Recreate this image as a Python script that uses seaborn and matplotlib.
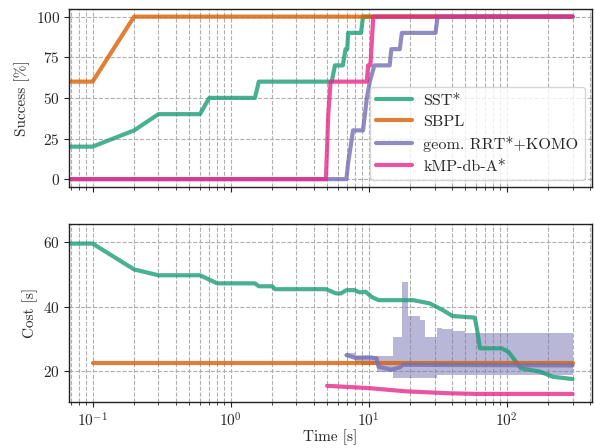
import numpy as np
import pandas as pd
import matplotlib
matplotlib.use("Agg")
import matplotlib.pyplot as plt
import seaborn as sns

# methods / colours
methods = ["SST*", "SBPL", "geom. RRT*+KOMO", "kMP-db-A*"]
colors = ["#1b9e77", "#d95f02", "#7570b3", "#e7298a"]

# success rate [%] over time [s]
sst_succ_t = [0.05, 0.1, 0.2, 0.3, 0.6, 0.7, 1.5, 1.6, 5.4, 5.7, 6.5, 6.8, 7.0, 7.1, 8.8, 9.1, 300]
sst_succ_v = [20, 20, 30, 40, 40, 50, 50, 60, 60, 70, 70, 80, 80, 90, 90, 100, 100]
sbpl_succ_t = [0.05, 0.1, 0.2, 300]
sbpl_succ_v = [60, 60, 100, 100]
rrt_succ_t = [0.05, 6.9, 7.1, 7.4, 7.7, 9.1, 9.4, 9.7, 10.2, 11.0, 14.2, 14.6, 16.8, 17.4, 30.5, 31.6, 300]
rrt_succ_v = [0, 0, 10, 20, 30, 30, 40, 50, 60, 70, 70, 80, 80, 90, 90, 100, 100]
kmp_succ_t = [0.05, 4.9, 5.0, 5.1, 5.3, 9.7, 9.9, 10.3, 10.8, 300]
kmp_succ_v = [0, 0, 20, 40, 60, 60, 70, 70, 100, 100]

# cost [s] over time [s]
sst_cost_t = [0.05, 0.1, 0.2, 0.3, 0.6, 0.8, 1.5, 1.6, 2.0, 2.1, 4.9, 5.8, 6.3, 6.9, 7.9, 8.6,
              9.5, 10.5, 11.8, 21, 27.7, 34.5, 40.5, 58.6, 61, 64, 92, 103, 127, 174, 216, 300]
sst_cost_v = [59.5, 59.5, 51.5, 49.7, 49.7, 47.2, 47.2, 46.3, 46.3, 45.4, 45.4, 44.1, 44.1, 45.1, 45.1, 44.4,
              44.6, 43.0, 42.0, 42.0, 41.0, 38.9, 37.1, 36.6, 33.0, 27.1, 27.1, 26.0, 20.9, 19.9, 18.3, 17.6]
sbpl_cost_t = [0.1, 300]
sbpl_cost_v = [22.6, 22.6]
rrt_cost_t = [6.9, 7.9, 10.2, 11.4, 11.8, 14.6, 16.8, 17.7, 300]
rrt_cost_v = [25.0, 24.2, 24.3, 24.0, 21.4, 20.5, 21.2, 22.0, 21.8]
kmp_cost_t = [5.0, 10.0, 18.5, 38.0, 60.0, 300]
kmp_cost_v = [15.5, 14.8, 13.8, 13.2, 13.0, 13.0]

# spread of the RRT*+KOMO cost
band_t = [6.9, 8.0, 9.0, 11.4, 15.0, 17.4, 19.4, 23.5, 25.4, 31.5, 34.0, 40.0, 50.0, 300]
band_lo = [24.5, 22.5, 22.0, 19.7, 18.0, 18.0, 18.0, 18.0, 18.0, 18.9, 18.9, 18.9, 18.9, 18.9]
band_hi = [25.5, 24.8, 24.8, 24.6, 30.7, 47.5, 37.0, 35.8, 30.7, 33.3, 33.0, 32.4, 31.9, 31.9]

succ = pd.concat([
    pd.DataFrame({"time": t, "value": v, "method": m})
    for t, v, m in zip([sst_succ_t, sbpl_succ_t, rrt_succ_t, kmp_succ_t],
                       [sst_succ_v, sbpl_succ_v, rrt_succ_v, kmp_succ_v], methods)
])
cost = pd.concat([
    pd.DataFrame({"time": t, "value": v, "method": m})
    for t, v, m in zip([sst_cost_t, sbpl_cost_t, rrt_cost_t, kmp_cost_t],
                       [sst_cost_v, sbpl_cost_v, rrt_cost_v, kmp_cost_v], methods)
])

sns.set_style("ticks")
plt.rcParams["font.family"] = "serif"
plt.rcParams["font.serif"] = ["cmr10", "DejaVu Serif"]
plt.rcParams["mathtext.fontset"] = "cm"
plt.rcParams["axes.formatter.use_mathtext"] = True
plt.rcParams["font.size"] = 11
plt.rcParams["axes.unicode_minus"] = False

palette = dict(zip(methods, colors))

fig, (ax1, ax2) = plt.subplots(2, 1, figsize=(5.95, 4.48), dpi=100, sharex=True)
fig.subplots_adjust(left=0.116, right=0.995, top=0.981, bottom=0.102, hspace=0.203)

sns.lineplot(data=succ, x="time", y="value", hue="method", hue_order=methods, palette=palette,
             estimator=None, sort=False, linewidth=3, alpha=0.8, ax=ax1, legend=True)

ax2.fill_between(band_t, band_lo, band_hi, step="post", color=colors[2], alpha=0.5,
                 linewidth=0, zorder=1)
sns.lineplot(data=cost, x="time", y="value", hue="method", hue_order=methods, palette=palette,
             estimator=None, sort=False, linewidth=3, alpha=0.8, ax=ax2, legend=False, zorder=2)

for ax in (ax1, ax2):
    ax.set_xscale("log")
    ax.set_xlim(0.0675, 415)
    ax.grid(True, which="both", axis="x", ls="--", color="#b0b0b0", lw=0.8)
    ax.grid(True, which="major", axis="y", ls="--", color="#b0b0b0", lw=0.8)
    ax.set_axisbelow(True)
    ax.tick_params(which="major", length=3.5, width=0.8, color="#222222", labelsize=11, pad=3)
    ax.tick_params(which="minor", length=2, width=0.6, color="#222222")
    for s in ax.spines.values():
        s.set_color("#222222")
        s.set_linewidth(1.0)

ax1.set_ylim(-5, 105)
ax1.set_yticks([0, 25, 50, 75, 100])
ax1.set_ylabel("Success [%]", labelpad=4)
ax1.set_xlabel("")

ax2.set_ylim(10.4, 65.7)
ax2.set_yticks([20, 40, 60])
ax2.set_ylabel("Cost [s]", labelpad=4)
ax2.set_xlabel("Time [s]", labelpad=0)

handles, labels = ax1.get_legend_handles_labels()
leg = ax1.legend(handles, labels, loc="lower right", handlelength=2.2, handletextpad=0.7,
                 fontsize=11.6, framealpha=0.8, edgecolor="#cccccc", borderaxespad=0.45,
                 labelspacing=0.45)
for h in leg.get_lines():
    h.set_linewidth(3)
    h.set_alpha(0.8)

fig.savefig("out.png", dpi=100)
